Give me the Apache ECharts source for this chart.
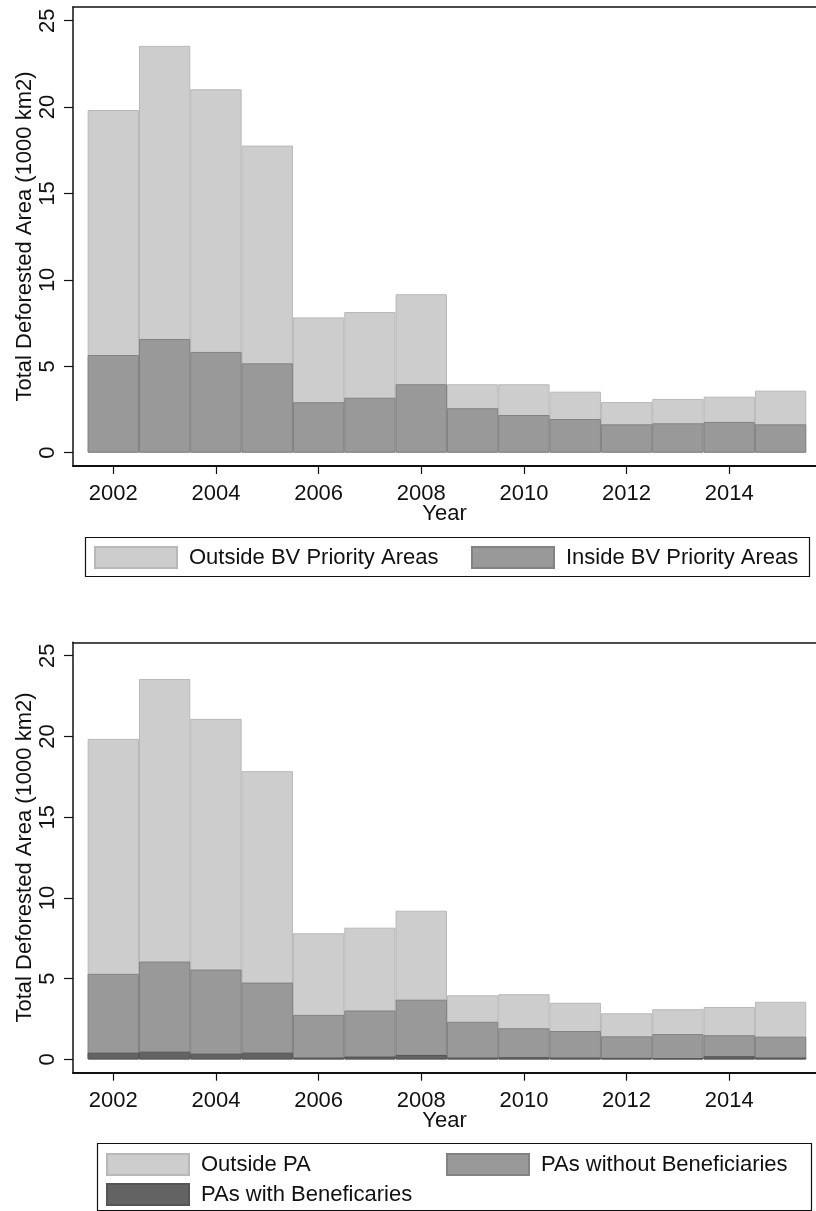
<!DOCTYPE html>
<html>
<head>
<meta charset="utf-8">
<title>Total Deforested Area</title>
<script src="https://cdn.jsdelivr.net/npm/echarts@6/dist/echarts.min.js"></script>
<style>
  html, body { margin: 0; padding: 0; background: #ffffff; }
  #chart { width: 816px; height: 1211px; }
</style>
</head>
<body>
<div id="chart"></div>
<script>
// Years on the horizontal axis
const years = [2002, 2003, 2004, 2005, 2006, 2007, 2008, 2009, 2010, 2011, 2012, 2013, 2014, 2015];
const yearTicks = [2002, 2004, 2006, 2008, 2010, 2012, 2014];
const areaTicks = [0, 5, 10, 15, 20, 25];

// Panel 1: deforested area (1000 km2), total and inside BV priority areas
const bvTotal  = [19.83, 23.54, 21.03, 17.77, 7.83, 8.14, 9.17, 3.96, 3.96, 3.53, 2.93, 3.11, 3.24, 3.59];
const bvInside = [5.65, 6.58, 5.83, 5.17, 2.92, 3.18, 3.96, 2.57, 2.18, 1.95, 1.64, 1.70, 1.78, 1.64];

// Panel 2: total, inside protected areas, inside PAs with beneficiaries
const paTotal    = [19.85, 23.56, 21.09, 17.85, 7.81, 8.16, 9.21, 3.97, 4.04, 3.51, 2.86, 3.11, 3.25, 3.57];
const paInside   = [5.30, 6.06, 5.57, 4.76, 2.76, 3.03, 3.70, 2.33, 1.93, 1.76, 1.43, 1.57, 1.50, 1.41];
const paWithBen  = [0.42, 0.48, 0.36, 0.42, 0.12, 0.18, 0.28, 0.12, 0.14, 0.12, 0.10, 0.08, 0.20, 0.12];

const FONT = "'Liberation Sans', Arial, sans-serif";
const LIGHT = '#cdcdcd', MID = '#999999', DARK = '#636363';

const pairs = (vals) => years.map((y, i) => [y, vals[i]]);

function xAxes(gridIndex) {
  return [
    {
      type: 'value', gridIndex, position: 'bottom',
      min: 2001.215, max: 2015.69,
      axisLine: { show: true, onZero: false, lineStyle: { color: '#111', width: 2 } },
      axisTick: { show: true, customValues: yearTicks, length: 8, lineStyle: { color: '#111', width: 1.2 } },
      axisLabel: {
        customValues: yearTicks, formatter: (v) => String(v),
        color: '#111', fontSize: 22, fontFamily: FONT, margin: 17
      },
      splitLine: { show: false },
      name: 'Year', nameLocation: 'middle', nameGap: 37, nameMoveOverlap: false,
      nameTextStyle: { color: '#111', fontSize: 22, fontFamily: FONT }
    },
    {
      // upper frame of the plot region
      type: 'value', gridIndex, position: 'top',
      min: 2001.215, max: 2015.69,
      axisLine: { show: true, onZero: false, lineStyle: { color: '#111', width: 1.5 } },
      axisTick: { show: false }, axisLabel: { show: false }, splitLine: { show: false }
    }
  ];
}

function yAxis(gridIndex, min, max) {
  return {
    type: 'value', gridIndex, min, max,
    axisLine: { show: true, onZero: false, lineStyle: { color: '#111', width: 1.5 } },
    axisTick: { show: true, customValues: areaTicks, length: 9, lineStyle: { color: '#111', width: 1.2 } },
    axisLabel: {
      customValues: areaTicks, rotate: 90, color: '#111',
      fontSize: 22, fontFamily: FONT, margin: 14
    },
    splitLine: { show: false },
    name: 'Total Deforested Area (1000 km2)', nameLocation: 'middle', nameGap: 37, nameRotate: 90,
    nameMoveOverlap: false,
    nameTextStyle: { color: '#111', fontSize: 22, fontFamily: FONT }
  };
}

function bar(name, vals, gridIndex, fill, border) {
  return {
    type: 'bar', name, xAxisIndex: gridIndex * 2, yAxisIndex: gridIndex,
    data: pairs(vals), barWidth: 51.3, barGap: '-100%',
    itemStyle: { color: fill, borderColor: border, borderWidth: 1 },
    silent: true
  };
}

function legendItem(name, left, top) {
  return {
    data: [{ name, icon: 'rect' }], left, top, padding: 0,
    orient: 'horizontal', itemWidth: 82, itemHeight: 21,
    selectedMode: false,
    textStyle: { color: '#111', fontSize: 22, fontFamily: FONT, padding: [0, 0, 0, 7] }
  };
}

const chart = echarts.init(document.getElementById('chart'), null, { renderer: 'canvas' });
chart.setOption({
  animation: false,
  backgroundColor: '#ffffff',
  textStyle: { fontFamily: FONT },
  grid: [
    { left: 73, top: 7, width: 743, height: 459, outerBoundsMode: 'none' },
    { left: 73, top: 642.3, width: 743, height: 430.4, outerBoundsMode: 'none' }
  ],
  xAxis: [...xAxes(0), ...xAxes(1)],
  yAxis: [yAxis(0, -0.77, 25.79), yAxis(1, -0.82, 25.83)],
  legend: [
    legendItem('Outside BV Priority Areas', 94, 546),
    legendItem('Inside BV Priority Areas', 471, 546),
    legendItem('Outside PA', 106, 1153),
    legendItem('PAs without Beneficiaries', 446, 1153),
    legendItem('PAs with Beneficaries', 106, 1183)
  ],
  graphic: [
    { type: 'rect', shape: { x: 85.5, y: 537.5, width: 724, height: 39 },
      style: { fill: 'none', stroke: '#111', lineWidth: 1.2 }, silent: true },
    { type: 'rect', shape: { x: 97.5, y: 1143.5, width: 714, height: 67 },
      style: { fill: 'none', stroke: '#111', lineWidth: 1.2 }, silent: true }
  ],
  series: [
    bar('Outside BV Priority Areas', bvTotal, 0, LIGHT, '#b8b8b8'),
    bar('Inside BV Priority Areas', bvInside, 0, MID, '#828282'),
    bar('Outside PA', paTotal, 1, LIGHT, '#b8b8b8'),
    bar('PAs without Beneficiaries', paInside, 1, MID, '#828282'),
    bar('PAs with Beneficaries', paWithBen, 1, DARK, '#555555')
  ]
});
</script>
</body>
</html>
